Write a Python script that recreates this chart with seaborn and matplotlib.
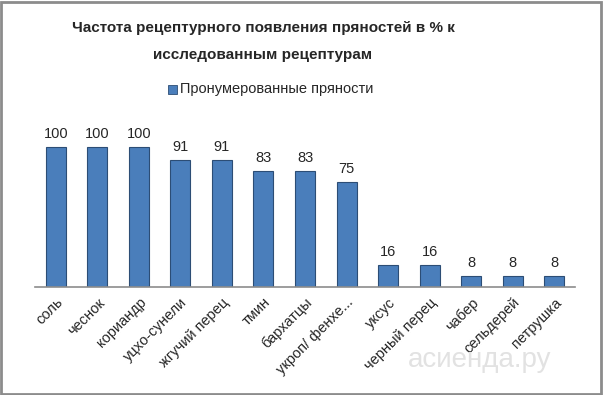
import matplotlib
matplotlib.use("Agg")
import matplotlib.pyplot as plt
import pandas as pd
import seaborn as sns
from matplotlib.patches import Rectangle

# data
spices = ["соль", "чеснок", "кориандр", "уцхо-сунели", "жгучий перец", "тмин",
          "бархатцы", "укроп/ фенхе...", "уксус", "черный перец", "чабер",
          "сельдерей", "петрушка"]
values = [100, 100, 100, 91, 91, 83, 83, 75, 16, 16, 8, 8, 8]
series_name = "Пронумерованные пряности"

df = pd.DataFrame({"spice": spices, "value": values})

sns.set_style("white")
plt.rcParams["font.family"] = ["Liberation Sans", "DejaVu Sans"]

fig = plt.figure(figsize=(6.03, 3.95), dpi=100)
ax = fig.add_axes([35 / 603, 1 - 287 / 395, 540 / 603, 157 / 395])

sns.barplot(data=df, x="spice", y="value", color="#4A7EBB", width=0.48,
            edgecolor="#2C4D75", linewidth=0.8, saturation=1, ax=ax)

for i, v in enumerate(values):
    ax.text(i, v + 4, str(v), ha="center", va="bottom", fontsize=10.5)

ax.set_ylim(0, 100 * 157 / 140)
ax.set_xlim(-0.5, len(spices) - 0.5)
ax.set_yticks([])
ax.set_xlabel("")
ax.set_ylabel("")
for s in ["top", "left", "right"]:
    ax.spines[s].set_visible(False)
ax.spines["bottom"].set_color("#8C8C8C")
ax.spines["bottom"].set_linewidth(1.2)
ax.tick_params(axis="x", length=0, pad=6)
plt.setp(ax.get_xticklabels(), rotation=45, ha="right", rotation_mode="anchor",
         fontsize=10.5)

fig.text(263 / 603, 1 - 28 / 395, "Частота рецептурного появления пряностей в % к",
         ha="center", va="center", fontsize=11, fontweight="bold")
fig.text(263 / 603, 1 - 55 / 395, "исследованным рецептурам",
         ha="center", va="center", fontsize=11, fontweight="bold")

# legend
fig.patches.append(Rectangle((168 / 603, 1 - 94 / 395), 9 / 603, 9 / 395,
                             transform=fig.transFigure, facecolor="#4A7EBB",
                             edgecolor="#2C4D75", linewidth=0.6))
fig.text(180 / 603, 1 - 89 / 395, series_name, ha="left", va="center", fontsize=10.5)

# watermark
fig.text(480 / 603, 1 - 360 / 395, "асиенда.ру", ha="center", va="center",
         fontsize=20, color="#E2E2E2")

# outer frame
fig.patches.append(Rectangle((0.002, 0.003), 0.995, 0.993, transform=fig.transFigure,
                             fill=False, edgecolor="#8C8C8C", linewidth=2))

fig.savefig("out.png", dpi=100)
